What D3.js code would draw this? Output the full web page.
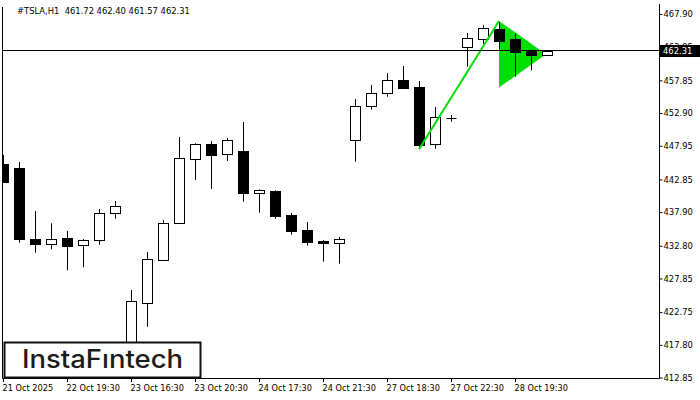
<!DOCTYPE html>
<html>
<head>
<meta charset="utf-8">
<script src="https://cdn.jsdelivr.net/npm/d3@7/dist/d3.min.js"></script>
<style>
  body { margin: 0; background: #ffffff; }
  svg { display: block; }
</style>
</head>
<body>
<div id="chart"></div>
<script>
/* globals d3 */

const HEADER = '#TSLA,H1  461.72 462.40 461.57 462.31';
const LAST_PRICE = 462.31;

// H1 bars, oldest first
const opens  = [445.18, 444.58, 433.82, 433.11, 433.98, 432.87, 433.63, 437.72, 417.77, 424.09,
                430.69, 436.29, 445.99, 448.21, 446.65, 447.15, 440.72, 441.05, 437.46, 435.19,
                433.52, 433.22, 448.77, 453.92, 455.89, 457.86, 456.84, 448.17, 452.22, 462.86,
                464.16, 465.58, 464.11, 462.46, 461.72];
const highs  = [446.55, 445.49, 438.06, 436.20, 435.04, 433.82, 438.37, 439.58, 426.10, 431.86,
                436.70, 449.27, 448.32, 448.67, 449.12, 451.54, 441.35, 441.20, 437.76, 436.40,
                433.67, 434.13, 455.03, 457.15, 458.96, 460.02, 457.75, 453.82, 452.60, 465.02,
                466.23, 466.69, 465.02, 462.49, 462.40];
const lows   = [442.31, 433.26, 431.75, 432.26, 429.08, 429.54, 432.96, 436.90, 416.71, 420.54,
                430.64, 436.14, 442.76, 441.40, 445.64, 439.47, 437.81, 436.90, 434.48, 432.81,
                430.39, 430.08, 445.53, 453.41, 455.38, 456.62, 447.76, 447.50, 451.59, 459.92,
                463.36, 462.49, 458.43, 459.37, 461.57];
const closes = [442.50, 433.87, 433.11, 433.82, 432.81, 433.67, 437.76, 438.78, 424.39, 430.75,
                436.20, 446.05, 448.17, 446.59, 448.77, 440.84, 441.20, 437.35, 435.08, 433.42,
                433.17, 433.82, 453.92, 455.94, 457.86, 456.65, 448.11, 452.26, 452.20, 464.22,
                465.73, 463.81, 462.22, 461.72, 462.31];

const timeTickBars = [0, 4, 8, 12, 16, 20, 24, 28, 32];
const timeLabels = ['21 Oct 2025', '22 Oct 19:30', '23 Oct 16:30', '23 Oct 20:30', '24 Oct 17:30',
                    '24 Oct 21:30', '27 Oct 18:30', '27 Oct 22:30', '28 Oct 19:30'];

const priceTicks = [467.90, 462.95, 457.85, 452.90, 447.95, 442.85, 437.90, 432.80, 427.85, 422.75, 417.80, 412.85];

// bullish pennant: flagpole and pennant (bar index, price)
const poleBars = [26, 31];
const polePrices = [447.41, 466.84];
const pennantBars = [31, 33.94, 31];
const pennantPrices = [466.84, 461.80, 456.77];

const app = {
  init() {
    this.width = 700;
    this.height = 400;
    this.left = 3;
    this.right = 659;
    this.bottom = 378;
    this.green = '#00e000';
    this.font = '\'DejaVu Sans\', sans-serif';
    app.draw();
  },

  draw() {
    const svg = d3.select('#chart').append('svg')
      .attr('width', app.width)
      .attr('height', app.height);

    svg.append('rect')
      .attr('width', app.width)
      .attr('height', app.height)
      .attr('fill', '#ffffff');

    const x = d3.scaleLinear()
      .domain([0, 41])
      .range([app.left, app.left + 41 * 16]);

    const y = d3.scaleLinear()
      .domain([412.85, 467.90])
      .range([377.5, 14]);

    svg.append('clipPath')
      .attr('id', 'plot-clip')
      .append('rect')
      .attr('x', app.left)
      .attr('y', 0)
      .attr('width', app.right - app.left)
      .attr('height', app.bottom);

    const plot = svg.append('g')
      .attr('clip-path', 'url(#plot-clip)');

    // pennant sits behind the candles
    const line = d3.line()
      .x(d => x(d[0]))
      .y(d => y(d[1]));

    plot.append('path')
      .attr('d', line(d3.zip(pennantBars, pennantPrices)) + 'Z')
      .attr('fill', app.green)
      .attr('stroke', 'none');

    const candles = plot.append('g')
      .attr('class', 'candles')
      .selectAll('g')
      .data(d3.range(opens.length))
      .join('g');

    candles.append('line')
      .attr('x1', i => x(i) + 0.5)
      .attr('x2', i => x(i) + 0.5)
      .attr('y1', i => y(highs[i]))
      .attr('y2', i => y(lows[i]))
      .attr('stroke', '#000')
      .attr('stroke-width', 1);

    candles.each(function (i) {
      const g = d3.select(this);
      const cx = x(i) + 0.5;
      const top = Math.round(y(Math.max(opens[i], closes[i]))) + 0.5;
      const bot = Math.round(y(Math.min(opens[i], closes[i]))) + 0.5;
      if (bot - top < 1) {
        g.append('line')
          .attr('x1', cx - 5)
          .attr('x2', cx + 5)
          .attr('y1', top)
          .attr('y2', top)
          .attr('stroke', '#000');
        return;
      }
      g.append('rect')
        .attr('x', cx - 5)
        .attr('y', top)
        .attr('width', 10)
        .attr('height', bot - top)
        .attr('fill', closes[i] >= opens[i] ? '#ffffff' : '#000000')
        .attr('stroke', '#000')
        .attr('stroke-width', 1);
    });

    // flagpole on top
    plot.append('path')
      .attr('d', line(d3.zip(poleBars, polePrices)))
      .attr('fill', 'none')
      .attr('stroke', app.green)
      .attr('stroke-width', 2);

    // current price line
    const py = Math.round(y(LAST_PRICE)) - 0.5;
    plot.append('line')
      .attr('x1', app.left)
      .attr('x2', app.right)
      .attr('y1', py)
      .attr('y2', py)
      .attr('stroke', '#000')
      .attr('stroke-width', 1);

    // frame
    svg.append('path')
      .attr('d', `M${app.left - 0.5},7V${app.bottom + 0.5}H${app.right + 0.5}V4`)
      .attr('fill', 'none')
      .attr('stroke', '#000')
      .attr('stroke-width', 1);

    // price axis
    const yAxis = svg.append('g')
      .attr('transform', `translate(${app.right + 0.5},0)`)
      .call(d3.axisRight(y)
        .tickValues(priceTicks)
        .tickFormat(d3.format('.2f'))
        .tickSize(3)
        .tickPadding(1));
    yAxis.select('.domain').remove();
    yAxis.selectAll('text')
      .attr('fill', '#000')
      .attr('style', `font-family: ${app.font}; font-size: 8.4px`);

    // time axis
    const xAxis = svg.append('g')
      .attr('transform', `translate(0,${app.bottom})`)
      .call(d3.axisBottom(x)
        .tickValues(timeTickBars)
        .tickFormat((d, i) => timeLabels[i])
        .tickSize(4)
        .tickPadding(3));
    xAxis.select('.domain').remove();
    xAxis.selectAll('text')
      .attr('text-anchor', 'start')
      .attr('x', -1)
      .attr('fill', '#000')
      .attr('style', `font-family: ${app.font}; font-size: 8.2px`);

    // last price tag
    svg.append('rect')
      .attr('x', app.right + 1)
      .attr('y', py - 5.5)
      .attr('width', app.width - app.right - 1)
      .attr('height', 12)
      .attr('fill', '#000');
    svg.append('text')
      .attr('x', app.right + 4)
      .attr('y', py + 3.5)
      .attr('fill', '#fff')
      .attr('style', `font-family: ${app.font}; font-size: 8.4px`)
      .text(LAST_PRICE.toFixed(2));

    // header
    svg.append('text')
      .attr('x', 17)
      .attr('y', 14)
      .attr('fill', '#000')
      .attr('xml:space', 'preserve')
      .attr('style', `font-family: ${app.font}; font-size: 8.4px; white-space: pre`)
      .text(HEADER);

    // logo
    const logo = svg.append('g');
    logo.append('rect')
      .attr('x', 4.5)
      .attr('y', 342.5)
      .attr('width', 196)
      .attr('height', 35)
      .attr('fill', '#fff')
      .attr('stroke', '#111')
      .attr('stroke-width', 2);
    logo.append('text')
      .attr('x', 22)
      .attr('y', 368)
      .attr('fill', '#1c1c1c')
      .attr('textLength', 161)
      .attr('lengthAdjust', 'spacingAndGlyphs')
      .attr('style', 'font-family: Inter, sans-serif; font-size: 25px; font-weight: 500')
      .text('InstaF\u0131ntech');
  },
};

(() => {
  app.init();
})();
</script>
</body>
</html>
